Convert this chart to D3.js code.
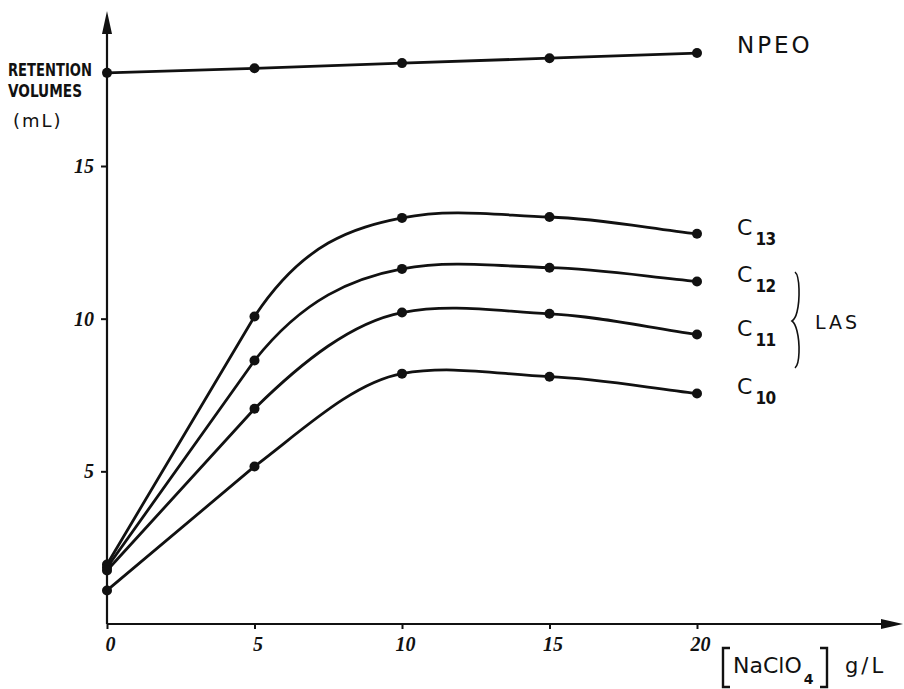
<!DOCTYPE html>
<html>
<head>
<meta charset="utf-8">
<script src="https://cdn.jsdelivr.net/npm/d3@7/dist/d3.min.js"></script>
<style>
  body { margin: 0; background: #fff; }
  .tick text { font-family: "Liberation Serif", serif; font-style: italic; font-weight: bold; font-size: 20px; fill: #111; }
  .tick line { stroke: #111; stroke-width: 2; }
</style>
</head>
<body>
<div id="chart"></div>
<script>
var concentrations = [0, 5, 10, 15, 20];
var npeo = [18.05, 18.2, 18.37, 18.53, 18.7];
var c13 = [1.95, 10.07, 13.3, 13.33, 12.78];
var c12 = [1.85, 8.63, 11.63, 11.67, 11.22];
var c11 = [1.75, 7.05, 10.2, 10.16, 9.48];
var c10 = [1.1, 5.16, 8.2, 8.1, 7.55];
var lasNames = ["13", "12", "11", "10"];
var xTicks = [0, 5, 10, 15, 20];
var yTicks = [5, 10, 15];

var drawChart = function(){

    var svg = d3.select("#chart")
                .append("svg")
                .attr("width", 904)
                .attr("height", 689);

    var x = d3.scaleLinear().domain([0, 20]).range([107, 697]);
    var y = d3.scaleLinear().domain([0, 15]).range([624, 166]);
    var ink = "#111";

    // axis lines with arrow heads
    svg.append("line").attr("x1", x(0)).attr("x2", 885).attr("y1", y(0)).attr("y2", y(0))
       .attr("stroke", ink).attr("stroke-width", 2.2);
    svg.append("path").attr("d", "M903," + y(0) + "L881," + (y(0) - 5) + "L881," + (y(0) + 5) + "Z").attr("fill", ink);
    svg.append("line").attr("x1", x(0)).attr("x2", x(0)).attr("y1", y(0)).attr("y2", 30)
       .attr("stroke", ink).attr("stroke-width", 2.2);
    svg.append("path").attr("d", "M" + x(0) + ",11L" + (x(0) - 5) + ",34L" + (x(0) + 5) + ",34Z").attr("fill", ink);

    var xAxis = d3.axisBottom(x).tickValues(xTicks).tickSize(5).tickPadding(8).tickFormat(d3.format("d"));
    var gx = svg.append("g").attr("transform", "translate(0," + y(0) + ")").call(xAxis);
    gx.select(".domain").remove();
    gx.selectAll(".tick text").attr("dx", 3);

    var yAxis = d3.axisLeft(y).tickValues(yTicks).tickSize(6).tickPadding(7).tickFormat(d3.format("d"));
    var gy = svg.append("g").attr("transform", "translate(" + x(0) + ",0)").call(yAxis);
    gy.select(".domain").remove();

    // NPEO is a straight polyline
    var straight = d3.line().x(function(d, i){ return x(concentrations[i]); }).y(function(d){ return y(d); });
    svg.append("path").attr("d", straight(npeo)).attr("fill", "none").attr("stroke", ink).attr("stroke-width", 2.8);

    // LAS curves: straight rise 0->5, then a smooth hermite curve through the rest
    var lasPath = function(s){
        var xs = concentrations, n = s.length;
        var m = s.map(function(v, i){
            if (i === 0) return (s[1] - s[0]) / (xs[1] - xs[0]);
            if (i === 1) return 0.9 * (s[1] - s[0]) / (xs[1] - xs[0]);
            if (i === n - 1) return (s[i] - s[i - 1]) / (xs[i] - xs[i - 1]);
            return 0.6 * (s[i + 1] - s[i - 1]) / (xs[i + 1] - xs[i - 1]);
        });
        var p = d3.path();
        p.moveTo(x(xs[0]), y(s[0]));
        p.lineTo(x(xs[1]), y(s[1]));
        for (var i = 1; i < n - 1; i++) {
            var h = xs[i + 1] - xs[i];
            p.bezierCurveTo(x(xs[i] + h / 3), y(s[i] + m[i] * h / 3),
                            x(xs[i + 1] - h / 3), y(s[i + 1] - m[i + 1] * h / 3),
                            x(xs[i + 1]), y(s[i + 1]));
        }
        return p.toString();
    };

    [c13, c12, c11, c10].forEach(function(s){
        svg.append("path").attr("d", lasPath(s)).attr("fill", "none").attr("stroke", ink).attr("stroke-width", 2.8);
    });

    [npeo, c13, c12, c11, c10].forEach(function(s){
        svg.selectAll(null).data(s).enter().append("circle")
           .attr("cx", function(d, i){ return x(concentrations[i]); })
           .attr("cy", function(d){ return y(d); })
           .attr("r", 5).attr("fill", ink);
    });

    // series labels
    svg.append("text").attr("x", 737).attr("y", 53).text("NPEO")
       .attr("font-family", "DejaVu Sans").attr("font-size", 23).attr("letter-spacing", 3).attr("fill", ink);

    [c13, c12, c11, c10].forEach(function(s, k){
        var t = svg.append("text").attr("x", 737).attr("y", y(s[4]) + 1).attr("fill", ink)
                   .attr("font-family", "DejaVu Sans").attr("font-size", 22);
        t.append("tspan").text("C");
        t.append("tspan").attr("dy", 10).attr("dx", 3).attr("font-size", 17).attr("font-weight", "bold")
         .attr("font-family", "DejaVu Sans Condensed").attr("letter-spacing", -0.5).text(lasNames[k]);
    });

    // LAS brace
    svg.append("path")
       .attr("d", "M795,272 C800,276 800,300 797,312 C796,316 795,319 792,321 C795,323 796,327 797,331 C800,343 800,364 795,368")
       .attr("fill", "none").attr("stroke", ink).attr("stroke-width", 1.6);
    svg.append("text").attr("x", 815).attr("y", 329).text("LAS")
       .attr("font-family", "DejaVu Sans").attr("font-size", 19).attr("letter-spacing", 3).attr("fill", ink);

    // y axis title
    var yt = svg.append("g").attr("font-family", "DejaVu Sans Condensed").attr("font-weight", "bold")
                .attr("font-size", 18).attr("fill", ink);
    yt.append("text").attr("x", 8).attr("y", 76).attr("textLength", 84).attr("lengthAdjust", "spacingAndGlyphs").text("RETENTION");
    yt.append("text").attr("x", 8).attr("y", 97).attr("textLength", 74).attr("lengthAdjust", "spacingAndGlyphs").text("VOLUMES");
    svg.append("text").attr("x", 13).attr("y", 127).text("(mL)")
       .attr("font-family", "DejaVu Sans").attr("font-size", 18).attr("letter-spacing", 2).attr("fill", ink);

    // x axis title
    svg.append("path").attr("d", "M730,648 L723,648 L723,687 L730,687").attr("fill", "none").attr("stroke", ink).attr("stroke-width", 2.4);
    svg.append("path").attr("d", "M820,648 L827,648 L827,687 L820,687").attr("fill", "none").attr("stroke", ink).attr("stroke-width", 2.4);
    var xt = svg.append("text").attr("x", 733).attr("y", 673).attr("font-family", "DejaVu Sans")
                .attr("font-size", 22).attr("fill", ink);
    xt.append("tspan").text("NaClO");
    xt.append("tspan").attr("dy", 11).attr("dx", 2).attr("font-size", 14).attr("font-weight", "bold").text("4");
    svg.append("text").attr("x", 845).attr("y", 673).text("g/L")
       .attr("font-family", "DejaVu Sans").attr("font-size", 21).attr("letter-spacing", 3).attr("fill", ink);
};

drawChart();
</script>
</body>
</html>
